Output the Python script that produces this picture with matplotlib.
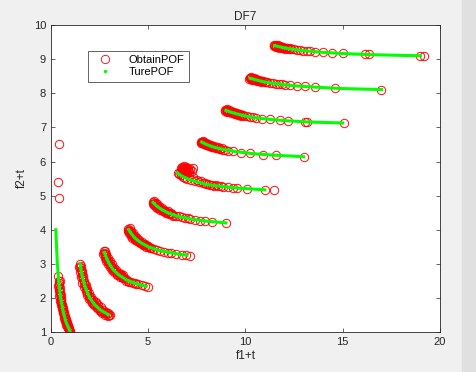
import matplotlib.pyplot as plt
from matplotlib.lines import Line2D
from matplotlib.patches import Rectangle

plt.rcParams['font.family'] = ['Liberation Sans', 'DejaVu Sans']

# ObtainPOF (red circles), one list per front
obt_x = [
    [0.38, 0.40, 0.41, 0.42, 0.44, 0.46, 0.48, 0.50, 0.52, 0.54, 0.56, 0.58, 0.60,
     0.63, 0.66, 0.69, 0.72, 0.75, 0.78, 0.81, 0.84, 0.87, 0.90, 0.93, 0.96, 0.99,
     0.41, 0.36, 0.39,
     0.45, 0.47, 0.50, 0.53, 0.57, 0.61, 0.66, 0.71, 0.76, 0.82, 0.88, 0.94,
     0.37, 0.40, 0.44, 0.48, 0.52, 0.56, 0.62, 0.68, 0.74, 0.80, 0.86, 0.92, 0.97],
    [1.50, 1.52, 1.55, 1.58, 1.61, 1.65, 1.69, 1.73, 1.78, 1.83, 1.88, 1.94, 2.00,
     2.06, 2.13, 2.20, 2.28, 2.36, 2.44, 2.52, 2.60, 2.70, 2.80, 2.90, 2.98, 3.04, 2.30,
     1.55, 1.60, 1.66, 1.72, 1.80, 1.88, 1.97, 2.07, 2.18, 2.30, 2.42, 2.55, 2.68,
     2.82, 2.95, 1.46, 1.50, 1.55, 1.62, 1.70, 1.78, 1.88, 1.98, 2.10, 2.22, 2.36,
     2.50, 2.65, 2.80, 2.92],
    [2.72, 2.75, 2.78, 2.81, 2.85, 2.89, 2.93, 2.98, 3.03, 3.08, 3.14, 3.20, 3.27,
     3.34, 3.42, 3.50, 3.58, 3.66, 3.75, 3.85, 3.95, 4.10, 4.30, 4.50, 4.66, 4.83,
     5.00, 3.62, 3.72,
     2.78, 2.85, 2.93, 3.02, 3.12, 3.23, 3.35, 3.48, 3.60, 2.70, 2.76, 2.84, 2.93,
     3.03, 3.14, 3.26, 3.40, 3.55, 3.70, 3.85, 4.00, 4.22, 4.40],
    [3.98, 4.00, 4.03, 4.06, 4.10, 4.14, 4.18, 4.23, 4.28, 4.34, 4.40, 4.47, 4.54,
     4.62, 4.70, 4.78, 4.87, 4.96, 5.06, 5.17, 5.30, 5.45, 5.60, 5.80, 6.00, 6.20,
     6.45, 6.72, 6.97, 7.15,
     4.05, 4.12, 4.20, 4.30, 4.42, 4.55, 4.70, 4.85, 5.00, 3.97, 4.02, 4.10, 4.19,
     4.30, 4.42, 4.56, 4.72, 4.90, 5.10],
    [5.25, 5.28, 5.32, 5.36, 5.41, 5.46, 5.52, 5.58, 5.65, 5.72, 5.80, 5.88, 5.97,
     6.07, 6.18, 6.30, 6.43, 6.57, 6.72, 6.88, 7.05, 7.15, 7.40, 7.66, 7.92, 8.26, 9.00,
     5.30, 5.38, 5.47, 5.58, 5.70, 5.84, 6.00, 6.18, 5.24, 5.30, 5.38, 5.48, 5.60,
     5.74, 5.90, 6.08, 6.30],
    [6.52, 6.60, 6.70, 6.80, 6.90, 6.75, 6.80, 6.85, 6.90, 6.95, 7.00, 6.82, 6.88,
     7.05, 6.78, 7.30, 6.97, 7.10, 7.00, 7.20, 7.40, 7.60, 7.80, 8.00, 8.20, 8.40,
     8.60, 8.86, 9.12, 9.37, 9.58, 10.06, 11.00, 11.48,
     6.70, 6.75, 6.85, 6.95, 7.05, 6.72, 6.92, 7.15, 6.66, 7.00, 7.25, 7.10, 7.30,
     7.50, 7.70, 7.90, 8.10, 8.30, 8.50, 8.75],
    [7.72, 7.75, 7.79, 7.83, 7.88, 7.93, 7.99, 8.05, 8.12, 8.20, 8.28, 8.37, 8.47,
     8.58, 8.70, 8.83, 8.97, 9.12, 9.37, 9.80, 10.23, 10.92, 11.57, 13.00,
     7.80, 7.88, 7.98, 8.10, 8.24, 8.40, 8.58, 8.78, 7.70, 7.78, 7.88, 8.00, 8.14,
     8.30, 8.48, 8.68],
    [8.97, 9.00, 9.04, 9.08, 9.13, 9.18, 9.24, 9.30, 9.37, 9.45, 9.53, 9.62, 9.72,
     9.83, 9.95, 10.08, 10.22, 10.38, 10.55, 10.83, 11.26, 11.77, 12.20, 13.06, 13.18, 15.08,
     9.05, 9.15, 9.27, 9.40, 9.55, 9.72, 9.90, 8.95, 9.05, 9.16, 9.30, 9.45, 9.62, 9.80],
    [10.22, 10.25, 10.30, 10.35, 10.41, 10.47, 10.54, 10.62, 10.70, 10.79, 10.89, 11.00,
     11.12, 11.25, 11.40, 11.56, 11.73, 11.90, 12.03, 12.29, 12.63, 13.06, 13.57, 14.60, 17.00,
     10.30, 10.42, 10.55, 10.70, 10.86, 11.04, 10.20, 10.32, 10.46, 10.62, 10.80],
    [11.47, 11.50, 11.55, 11.60, 11.66, 11.72, 11.79, 11.87, 11.95, 12.04, 12.14, 12.25,
     12.37, 12.50, 12.64, 12.80, 12.97, 13.15, 13.30, 13.57, 14.00, 14.43, 15.03, 16.14,
     16.37, 18.97, 19.18,
     11.55, 11.67, 11.80, 11.95, 12.12, 12.30, 11.45, 11.58, 11.72, 11.88, 12.05],
]
obt_y = [
    [2.63, 2.50, 2.44, 2.38, 2.27, 2.17, 2.08, 2.00, 1.92, 1.85, 1.79, 1.72, 1.67,
     1.59, 1.52, 1.45, 1.39, 1.33, 1.28, 1.23, 1.19, 1.15, 1.11, 1.08, 1.04, 1.01,
     6.50, 5.41, 4.92,
     2.50, 2.30, 2.10, 1.95, 1.80, 1.70, 1.58, 1.47, 1.38, 1.28, 1.20, 1.12,
     2.35, 2.20, 2.05, 1.90, 1.78, 1.68, 1.55, 1.42, 1.32, 1.22, 1.13, 1.06, 1.00],
    [3.00, 2.92, 2.82, 2.72, 2.64, 2.54, 2.45, 2.37, 2.28, 2.21, 2.14, 2.06, 2.00,
     1.94, 1.89, 1.83, 1.78, 1.74, 1.69, 1.66, 1.63, 1.59, 1.56, 1.53, 1.51, 1.49, 1.84,
     2.95, 2.80, 2.65, 2.50, 2.38, 2.26, 2.15, 2.04, 1.95, 1.87, 1.80, 1.73, 1.66,
     1.60, 1.55, 2.90, 2.75, 2.60, 2.45, 2.32, 2.20, 2.08, 1.96, 1.86, 1.78, 1.70,
     1.62, 1.55, 1.50, 1.46],
    [3.39, 3.33, 3.28, 3.24, 3.18, 3.12, 3.08, 3.02, 2.97, 2.93, 2.88, 2.83, 2.79,
     2.75, 2.70, 2.67, 2.63, 2.60, 2.57, 2.54, 2.51, 2.48, 2.44, 2.40, 2.38, 2.35,
     2.33, 2.70, 2.66,
     3.38, 3.28, 3.18, 3.08, 2.98, 2.89, 2.81, 2.74, 2.68, 3.28, 3.18, 3.08, 2.99,
     2.91, 2.83, 2.75, 2.68, 2.62, 2.57, 2.50, 2.46, 2.43, 2.41],
    [4.02, 4.00, 3.97, 3.94, 3.91, 3.88, 3.85, 3.81, 3.78, 3.75, 3.71, 3.68, 3.65,
     3.62, 3.59, 3.56, 3.54, 3.51, 3.49, 3.46, 3.44, 3.41, 3.39, 3.36, 3.33, 3.31,
     3.29, 3.27, 3.25, 3.24,
     4.04, 3.97, 3.90, 3.83, 3.76, 3.69, 3.63, 3.58, 3.53, 3.95, 3.89, 3.83, 3.77,
     3.71, 3.66, 3.61, 3.55, 3.50, 3.45],
    [4.80, 4.78, 4.76, 4.74, 4.71, 4.69, 4.66, 4.63, 4.61, 4.58, 4.56, 4.53, 4.51,
     4.48, 4.46, 4.44, 4.41, 4.39, 4.37, 4.35, 4.33, 4.32, 4.29, 4.27, 4.26, 4.24, 4.20,
     4.84, 4.79, 4.74, 4.69, 4.64, 4.59, 4.54, 4.50, 4.75, 4.71, 4.67, 4.63, 4.58,
     4.54, 4.50, 4.46, 4.41],
    [5.66, 5.63, 5.59, 5.56, 5.53, 5.78, 5.80, 5.82, 5.79, 5.76, 5.80, 5.74, 5.72,
     5.74, 5.70, 5.80, 5.68, 5.70, 5.50, 5.46, 5.42, 5.39, 5.36, 5.33, 5.31, 5.29,
     5.28, 5.26, 5.24, 5.23, 5.22, 5.20, 5.17, 5.16,
     5.82, 5.85, 5.86, 5.85, 5.82, 5.75, 5.74, 5.78, 5.68, 5.65, 5.72, 5.60, 5.55,
     5.47, 5.42, 5.38, 5.35, 5.32, 5.30, 5.28],
    [6.58, 6.57, 6.56, 6.55, 6.53, 6.52, 6.50, 6.49, 6.47, 6.46, 6.44, 6.42, 6.41,
     6.39, 6.37, 6.35, 6.34, 6.32, 6.30, 6.26, 6.24, 6.20, 6.18, 6.14,
     6.60, 6.57, 6.54, 6.51, 6.48, 6.45, 6.42, 6.39, 6.55, 6.53, 6.51, 6.48, 6.45,
     6.42, 6.39, 6.36],
    [7.51, 7.50, 7.49, 7.48, 7.47, 7.46, 7.45, 7.44, 7.42, 7.41, 7.40, 7.38, 7.37,
     7.35, 7.34, 7.33, 7.31, 7.30, 7.28, 7.26, 7.24, 7.21, 7.19, 7.17, 7.16, 7.12,
     7.53, 7.50, 7.47, 7.44, 7.42, 7.39, 7.36, 7.48, 7.46, 7.44, 7.41, 7.38, 7.36, 7.33],
    [8.45, 8.44, 8.44, 8.43, 8.42, 8.41, 8.39, 8.38, 8.37, 8.36, 8.35, 8.33,
     8.32, 8.31, 8.29, 8.28, 8.27, 8.26, 8.25, 8.23, 8.22, 8.20, 8.18, 8.15, 8.11,
     8.47, 8.44, 8.41, 8.39, 8.36, 8.34, 8.42, 8.40, 8.38, 8.36, 8.33],
    [9.41, 9.40, 9.39, 9.39, 9.38, 9.37, 9.36, 9.35, 9.34, 9.33, 9.32, 9.31,
     9.30, 9.29, 9.28, 9.26, 9.25, 9.24, 9.23, 9.22, 9.20, 9.18, 9.17, 9.14,
     9.14, 9.10, 9.10,
     9.43, 9.41, 9.39, 9.36, 9.34, 9.32, 9.38, 9.36, 9.34, 9.33, 9.31],
]

# TurePOF (green), one polyline per front
true_x = [
    [0.25, 0.29, 0.33, 0.40, 0.50, 0.63, 0.77, 1.00],
    [1.50, 1.57, 1.67, 1.80, 2.00, 2.25, 2.54, 2.95],
    [2.75, 2.86, 3.00, 3.20, 3.50, 3.88, 4.31, 4.90],
    [4.00, 4.14, 4.33, 4.60, 5.00, 5.50, 6.08, 7.00],
    [5.25, 5.43, 5.67, 6.00, 6.50, 7.13, 7.85, 9.00],
    [6.50, 6.71, 7.00, 7.40, 8.00, 8.75, 9.62, 11.00],
    [7.75, 8.00, 8.33, 8.80, 9.50, 10.38, 11.38, 13.00],
    [9.00, 9.29, 9.67, 10.20, 11.00, 12.00, 13.15, 15.00],
    [10.25, 10.57, 11.00, 11.60, 12.50, 13.63, 14.92, 17.00],
    [11.50, 11.86, 12.33, 13.00, 14.00, 15.25, 16.69, 19.00],
]
true_y = [
    [4.00, 3.50, 3.00, 2.50, 2.00, 1.60, 1.30, 1.00],
    [3.00, 2.75, 2.50, 2.25, 2.00, 1.80, 1.65, 1.51],
    [3.33, 3.17, 3.00, 2.83, 2.67, 2.53, 2.43, 2.34],
    [4.00, 3.88, 3.75, 3.63, 3.50, 3.40, 3.33, 3.25],
    [4.80, 4.70, 4.60, 4.50, 4.40, 4.32, 4.26, 4.20],
    [5.67, 5.58, 5.50, 5.42, 5.33, 5.27, 5.22, 5.17],
    [6.57, 6.50, 6.43, 6.36, 6.29, 6.23, 6.19, 6.14],
    [7.50, 7.44, 7.38, 7.31, 7.25, 7.20, 7.16, 7.13],
    [8.44, 8.39, 8.33, 8.28, 8.22, 8.18, 8.14, 8.11],
    [9.40, 9.35, 9.30, 9.25, 9.20, 9.16, 9.13, 9.10],
]

x_ticks = [0, 5, 10, 15, 20]
y_ticks = [1, 2, 3, 4, 5, 6, 7, 8, 9, 10]

fig = plt.figure(figsize=(4.76, 3.72), dpi=100, facecolor='#f0f0f0')
fig.patches.append(Rectangle((462 / 476, 0), 14 / 476, 1, transform=fig.transFigure,
                             color='#e0e0e0', zorder=0))
ax = fig.add_axes([0.107, 0.1075, 0.817, 0.825])

dark = '#262626'
for xs, ys in zip(obt_x, obt_y):
    ax.plot(xs, ys, 'o', mfc='none', mec='red', ms=6, mew=0.75, alpha=0.9, zorder=2)
for xs, ys in zip(true_x, true_y):
    ax.plot(xs, ys, '-', color='#00ff00', lw=2.2, zorder=3)

ax.set_xlim(0, 20)
ax.set_ylim(1, 10)
ax.set_xticks(x_ticks)
ax.set_yticks(y_ticks)
ax.tick_params(direction='in', length=3, width=0.5, colors=dark, labelsize=8,
               top=True, right=True)
for s in ax.spines.values():
    s.set_linewidth(0.6)
    s.set_color(dark)
ax.set_title('DF7', fontsize=8.5, color=dark, pad=4)
ax.set_xlabel('f1+t', fontsize=8.5, color=dark, labelpad=2)
ax.set_ylabel('f2+t', fontsize=8.5, color=dark, labelpad=4)

handles = [
    Line2D([], [], ls='none', marker='o', mfc='none', mec='red', ms=6, mew=0.6),
    Line2D([], [], ls='none', marker='.', color='#00ff00', ms=3),
]
leg = ax.legend(handles, ['ObtainPOF', 'TurePOF'], loc='upper left',
                bbox_to_anchor=(0.08, 0.935), fontsize=8, fancybox=False,
                edgecolor=dark, framealpha=1, borderpad=0.4, handletextpad=1.0,
                labelspacing=0.2, handlelength=2.3)
leg.get_frame().set_linewidth(0.5)

fig.savefig('out.png', dpi=100, facecolor=fig.get_facecolor())
